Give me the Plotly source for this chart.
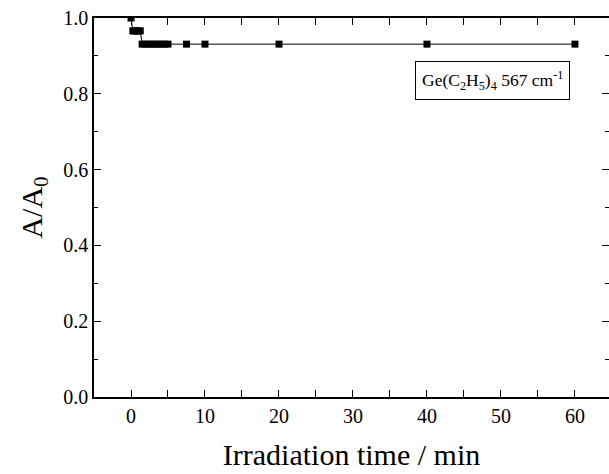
import plotly.graph_objects as go

time_min = [0, 0.25, 0.5, 0.75, 1.0, 1.25, 1.5, 2, 2.5, 3, 3.5, 4, 4.5, 5, 7.5, 10, 20, 40, 60]
ratio = [1.0, 0.966, 0.966, 0.966, 0.966, 0.966, 0.931, 0.931, 0.931, 0.931, 0.931, 0.931,
         0.931, 0.931, 0.931, 0.931, 0.931, 0.931, 0.931]
x_ticks = [0, 10, 20, 30, 40, 50, 60]
y_ticks = [0.0, 0.2, 0.4, 0.6, 0.8, 1.0]

FONT = "Liberation Serif"

fig = go.Figure()
fig.add_trace(go.Scatter(
    x=time_min, y=ratio, mode="lines+markers",
    line=dict(color="black", width=1),
    marker=dict(symbol="square", size=7, color="black"),
    cliponaxis=True, showlegend=False,
))
# invisible trace to activate the right-hand tick axis
fig.add_trace(go.Scatter(x=[None], y=[None], yaxis="y2", showlegend=False, hoverinfo="skip"))

fig.add_annotation(
    x=48.9, y=0.834, xref="x", yref="y",
    text="Ge(C<sub>2</sub>H<sub>5</sub>)<sub>4</sub> 567 cm<sup>-1</sup>",
    showarrow=False, font=dict(family=FONT, size=17.5, color="black"),
    bordercolor="black", borderwidth=1, borderpad=6, bgcolor="white",
)

minor_y = dict(dtick=0.1, tick0=0, ticks="inside", ticklen=4, tickcolor="black", showgrid=False)

fig.update_layout(
    width=609, height=474,
    margin=dict(l=94, r=0, t=18, b=77),
    paper_bgcolor="white", plot_bgcolor="white",
    font=dict(family=FONT, color="black", size=20),
    xaxis=dict(
        range=[-5, 64.6], tickvals=x_ticks, ticktext=[str(v) for v in x_ticks],
        ticks="inside", ticklen=7, tickwidth=1, tickcolor="black",
        minor=dict(dtick=5, tick0=0, ticks="inside", ticklen=4, tickcolor="black", showgrid=False),
        showline=True, linecolor="black", linewidth=1.5, mirror="allticks",
        showgrid=False, zeroline=False,
        title=dict(text="Irradiation time / min", font=dict(family=FONT, size=30), standoff=18),
        tickfont=dict(family=FONT, size=20),
    ),
    yaxis=dict(
        range=[0, 1.0], tickvals=y_ticks, ticktext=[f"{v:.1f}" for v in y_ticks],
        ticks="inside", ticklen=7, tickwidth=1, tickcolor="black",
        minor=minor_y,
        showline=True, linecolor="black", linewidth=1.5, mirror=False,
        showgrid=False, zeroline=False,
        title=dict(text="A/A<sub>0</sub>", font=dict(family=FONT, size=30), standoff=12),
        tickfont=dict(family=FONT, size=20),
    ),
    yaxis2=dict(
        overlaying="y", side="right", range=[0, 1.0], tickvals=y_ticks,
        ticks="inside", ticklen=7, tickwidth=1, tickcolor="black",
        minor=minor_y, showticklabels=False, showline=False,
        showgrid=False, zeroline=False,
    ),
)

fig.write_html("out.html")
